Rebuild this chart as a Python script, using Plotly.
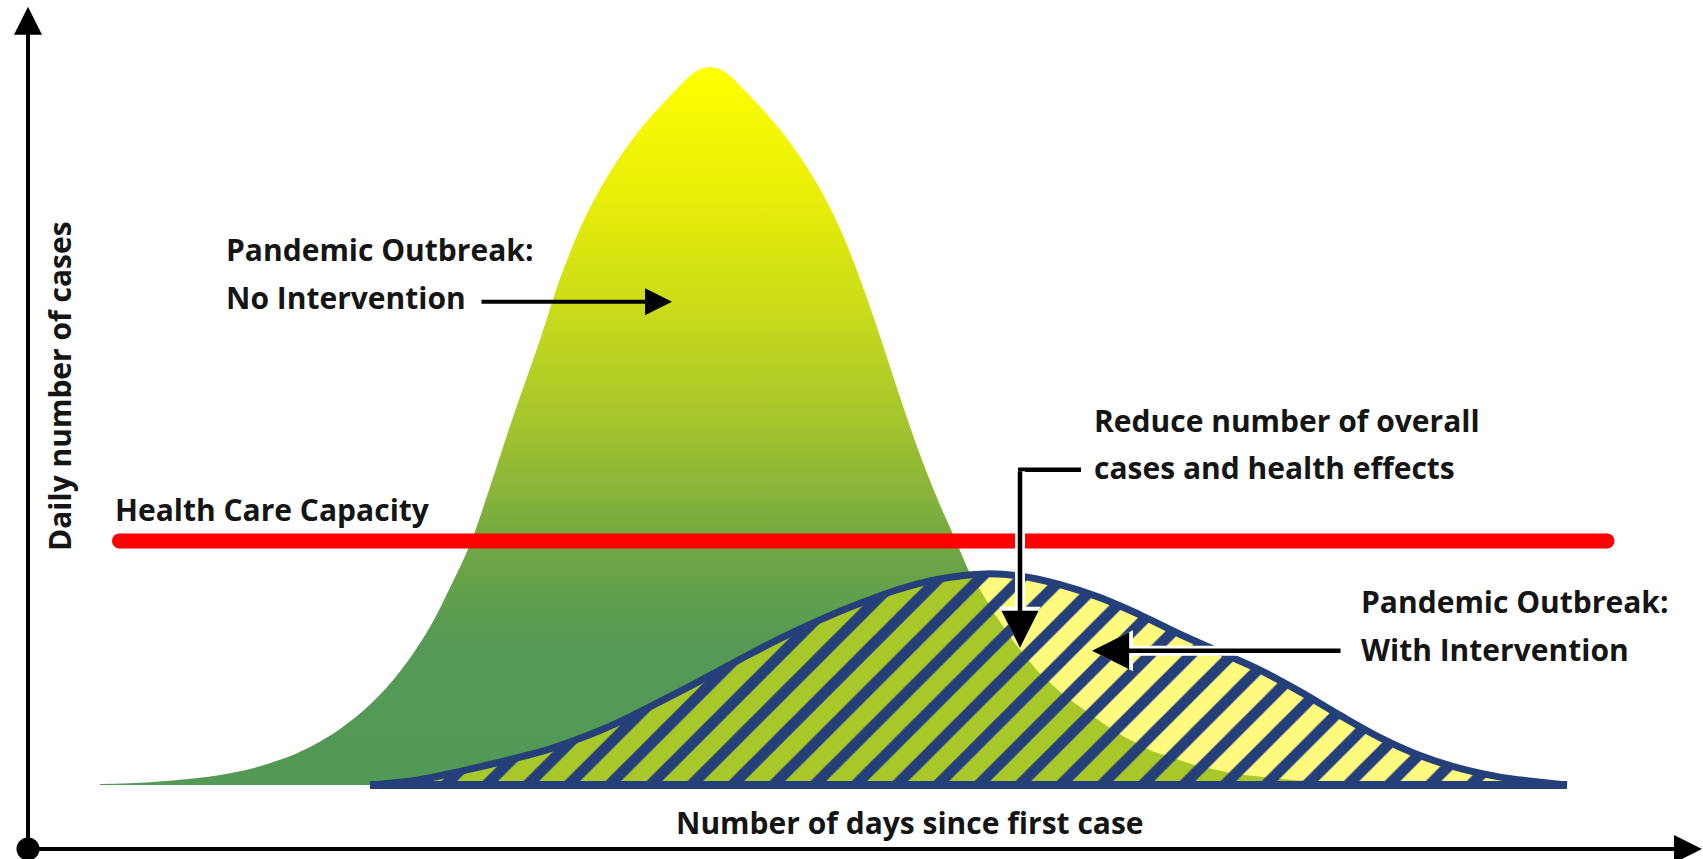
import numpy as np
import plotly.graph_objects as go

# ---------------- data ----------------
# Curve without intervention: days since first case -> daily cases (peak = 100)
days_no_int = [0, 5, 10, 14, 18, 21, 24, 27, 30, 33, 35, 37, 39, 41, 44, 46, 48, 50, 52, 54, 56, 58,
               59.5, 61, 62.5, 64, 66, 68, 70, 72, 74, 76, 78, 80, 82, 84, 85.6, 87, 89, 91, 93.5, 96,
               99, 102, 105, 109, 113, 118, 125]
cases_no_int = [0.15, 0.4, 1.0, 1.9, 3.5, 5.3, 7.8, 11.2, 15.8, 22.0, 27.5, 33.5, 41.5, 50.0, 62.0,
                70.5, 77.5, 83.0, 87.5, 91.3, 94.5, 97.4, 99.3, 100.0, 99.3, 97.4, 94.5, 91.3, 87.5,
                83.0, 77.5, 70.5, 62.5, 54.0, 46.0, 39.0, 34.0, 29.5, 24.8, 20.6, 16.2, 12.9, 9.8,
                7.0, 4.8, 2.9, 1.6, 0.8, 0.2]

# Curve with intervention
days_int = [27, 30, 33, 36, 40, 44, 47, 50, 53, 56, 60, 64, 68, 72, 76, 80, 84, 88.5, 92, 96, 100,
            104, 108, 112, 116, 120, 124, 128, 132, 136, 140, 144, 146.7]
cases_int = [0.0, 0.4, 1.0, 1.9, 3.2, 4.6, 6.0, 7.6, 9.5, 11.6, 14.5, 17.5, 20.4, 23.0, 25.3, 27.3,
             28.7, 29.4, 29.1, 27.9, 26.1, 23.7, 21.0, 18.5, 16.0, 13.0, 9.7, 6.6, 4.1, 2.3, 1.1, 0.4, 0.0]

# Health care capacity line
capacity = 34.0
capacity_span = [1.95, 150.7]

# Texts
label_no_int = ["Pandemic Outbreak:", "No Intervention"]
label_int = ["Pandemic Outbreak:", "With Intervention"]
label_reduce = ["Reduce number of overall", "cases and health effects"]
label_capacity = "Health Care Capacity"
x_title = "Number of days since first case"
y_title = "Daily number of cases"

# ---------------- styles ----------------
W, H = 1703, 859
X_RANGE = [-10.0, 160.3]
Y_RANGE = [-10.306, 109.331]
NAVY = "#243f7a"
LIGHT_YELLOW = "#fefa7e"
YELLOW_GREEN = "#a8c82a"
RED = "#ff0000"
TEXT = "#151515"
FONT = dict(family="Open Sans", size=30, color=TEXT, weight=700)

grad = [[0.0, "#529955"], [0.2, "#559955"], [0.34, "#72a842"], [0.5, "#a4c42e"],
        [0.67, "#cbdc18"], [0.82, "#e9ee08"], [1.0, "#ffff00"]]

AX_X = -7.2     # position of the vertical axis (days)
AX_Y = -8.91    # position of the horizontal axis (cases)

fig = go.Figure()

# Big curve with vertical gradient
fig.add_trace(go.Scatter(
    x=days_no_int, y=cases_no_int, mode="lines",
    line=dict(width=0, shape="spline", smoothing=1.0),
    fill="tozeroy",
    fillgradient=dict(type="vertical", colorscale=grad, start=0, stop=100),
    hoverinfo="skip", showlegend=False))

# Intervention curve: light yellow base
fig.add_trace(go.Scatter(
    x=days_int, y=cases_int, mode="lines",
    line=dict(width=0, shape="spline", smoothing=1.0),
    fill="tozeroy", fillcolor=LIGHT_YELLOW,
    hoverinfo="skip", showlegend=False))

# Overlap of both curves (yellow-green)
grid = np.linspace(days_int[0], days_int[-1], 600)
overlap = np.minimum(np.interp(grid, days_no_int, cases_no_int),
                     np.interp(grid, days_int, cases_int))
fig.add_trace(go.Scatter(
    x=grid, y=overlap, mode="lines",
    line=dict(width=0),
    fill="tozeroy", fillcolor=YELLOW_GREEN,
    hoverinfo="skip", showlegend=False))

# Hatching + outline
fig.add_trace(go.Scatter(
    x=days_int, y=cases_int, mode="lines",
    line=dict(width=7, color=NAVY, shape="spline", smoothing=1.0),
    fill="tozeroy", fillcolor=NAVY,
    fillpattern=dict(shape="/", fgcolor=NAVY, bgcolor="rgba(0,0,0,0)", size=29,
                     solidity=0.38, fgopacity=1, fillmode="replace"),
    hoverinfo="skip", showlegend=False))

# Baseline of intervention curve
fig.add_trace(go.Scatter(
    x=[days_int[0], days_int[-1]], y=[0, 0], mode="lines",
    line=dict(width=8, color=NAVY),
    hoverinfo="skip", showlegend=False))

# Health care capacity
fig.add_trace(go.Scatter(
    x=capacity_span, y=[capacity, capacity], mode="lines+markers",
    line=dict(width=15, color=RED), marker=dict(size=15, color=RED),
    hoverinfo="skip", showlegend=False))

# Origin dot
fig.add_trace(go.Scatter(
    x=[AX_X], y=[AX_Y], mode="markers",
    marker=dict(size=23, color="black"),
    hoverinfo="skip", showlegend=False))

annotations = []


def arrow(x, y, ax, ay, width, size, color="black"):
    annotations.append(dict(
        x=x, y=y, ax=ax, ay=ay, xref="x", yref="y", axref="x", ayref="y",
        text="", showarrow=True, arrowhead=2, arrowwidth=width, arrowsize=size,
        arrowcolor=color, standoff=0, startstandoff=0))


# Axes with arrows
arrow(AX_X, 108.4, AX_X, AX_Y, 4, 1.4)
arrow(160.2, AX_Y, AX_X, AX_Y, 4, 1.4)

# "No Intervention" arrow
arrow(57.2, 67.3, 38.0, 67.3, 4, 1.35)

# Down arrow (reduce cases) with white halo
arrow(92.0, 19.1, 92.0, 43.9, 10, 0.82, "white")
arrow(92.0, 19.1, 92.0, 43.9, 4.5, 1.65)
# Left arrow (with intervention) with white halo
arrow(99.2, 18.7, 124.2, 18.7, 10, 0.82, "white")
arrow(99.2, 18.7, 124.2, 18.7, 4.5, 1.65)

shapes = [dict(type="line", xref="x", yref="y", x0=91.8, x1=98.1, y0=43.9, y1=43.9,
               line=dict(color="black", width=4.5))]


def text(s, px, py, anchor="left", angle=0):
    annotations.append(dict(
        x=px / W, y=1 - py / H, xref="paper", yref="paper",
        text=s, showarrow=False, xanchor=anchor, yanchor="middle",
        textangle=angle, font=FONT))


text(label_no_int[0], 224, 249)
text(label_no_int[1], 224, 297)
text(label_capacity, 113, 509)
text(label_reduce[0], 1092, 420)
text(label_reduce[1], 1092, 467)
text(label_int[0], 1359, 601)
text(label_int[1], 1359, 649)
text(x_title, 910, 822, anchor="center")
text(y_title, 60, 386, anchor="center", angle=-90)

fig.update_layout(
    width=W, height=H, margin=dict(l=0, r=0, t=0, b=0),
    paper_bgcolor="white", plot_bgcolor="white",
    xaxis=dict(range=X_RANGE, visible=False, fixedrange=True),
    yaxis=dict(range=Y_RANGE, visible=False, fixedrange=True),
    showlegend=False, annotations=annotations, shapes=shapes)

fig.write_html(
    "out.html",
    config={"displayModeBar": False},
    post_script="document.body.style.margin='0';document.body.style.padding='0';"
                "document.body.style.overflow='hidden';")
